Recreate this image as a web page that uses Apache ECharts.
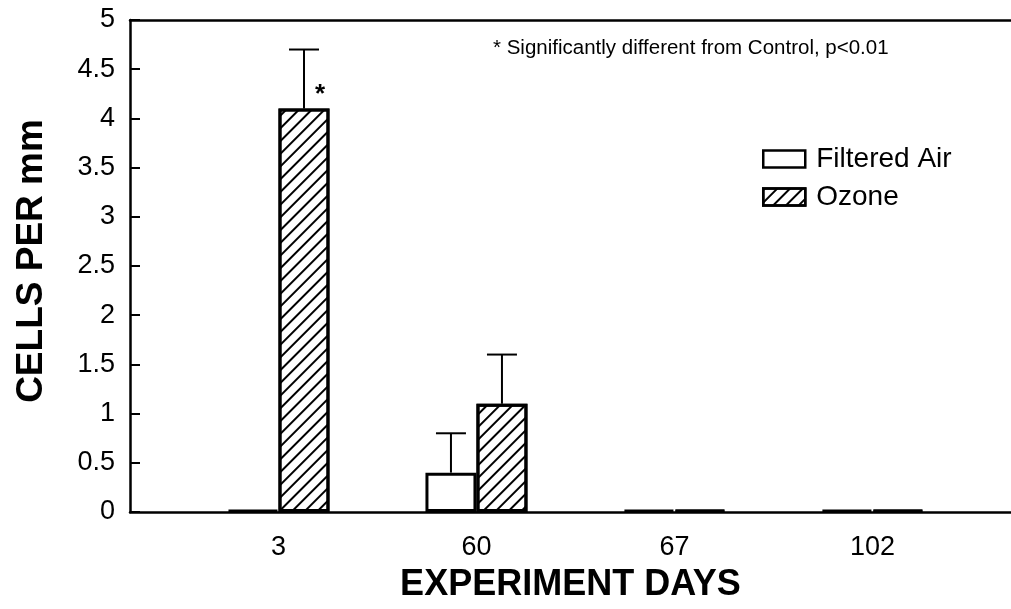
<!DOCTYPE html>
<html>
<head>
<meta charset="utf-8">
<script src="https://cdn.jsdelivr.net/npm/echarts@6/dist/echarts.min.js"></script>
<style>
  html, body { margin: 0; padding: 0; background: #fff; }
  #chart { width: 1011px; height: 609px; }
</style>
</head>
<body>
<div id="chart"></div>
<script>
// 数据
var days = ['3', '60', '67', '102'];
var filteredAir = [0.02, 0.4, 0.02, 0.02];
var ozone = [4.1, 1.1, 0.02, 0.02];
var filteredAirErr = [0, 0.4, 0, 0];
var ozoneErr = [0.6, 0.5, 0, 0];
var ozoneSig = [true, false, false, false];
var yTicks = [0, 0.5, 1, 1.5, 2, 2.5, 3, 3.5, 4, 4.5, 5];

var font = "'Liberation Sans', Arial, Helvetica, sans-serif";
var barW = 51;

var hatch = {
  symbol: 'rect',
  symbolSize: 1,
  dashArrayX: [1, 0],
  dashArrayY: [2, 7],
  rotation: -Math.PI / 4,
  color: '#000'
};

function pairs(arr) {
  return arr.map(function (v, i) { return [i, v]; });
}
function errData(vals, errs) {
  return vals.map(function (v, i) { return [i, v, errs[i]]; });
}

// 误差线
function errRender(offset) {
  return function (params, api) {
    var e = api.value(2);
    if (!e) return;
    var base = api.coord([api.value(0), api.value(1)]);
    var top = api.coord([api.value(0), api.value(1) + e]);
    var x = base[0] + offset;
    return {
      type: 'group',
      children: [
        { type: 'line', shape: { x1: x, y1: base[1], x2: x, y2: top[1] }, style: { stroke: '#000', lineWidth: 2 } },
        { type: 'line', shape: { x1: x - 15, y1: top[1], x2: x + 15, y2: top[1] }, style: { stroke: '#000', lineWidth: 2 } }
      ]
    };
  };
}

var myChart = echarts.init(document.getElementById('chart'));
myChart.setOption({
  backgroundColor: '#fff',
  animation: false,
  textStyle: { fontFamily: font, color: '#000' },
  title: {
    text: '* Significantly different from Control, p<0.01',
    left: 488,
    top: 33,
    textStyle: { fontFamily: font, fontSize: 20.5, fontWeight: 'normal', color: '#000' }
  },
  legend: {
    orient: 'vertical',
    left: 757,
    top: 140,
    icon: 'rect',
    itemWidth: 42,
    itemHeight: 17,
    itemGap: 10,
    itemStyle: { borderColor: '#000', borderWidth: 2.5 },
    textStyle: { fontFamily: font, fontSize: 28, color: '#000', lineHeight: 28, padding: [0, 0, 0, 6] },
    data: ['Filtered Air', 'Ozone']
  },
  grid: { left: 130, right: 0, top: 20, bottom: 97, containLabel: false },
  xAxis: [{
    type: 'value',
    min: -0.75,
    max: 3.7,
    name: 'EXPERIMENT DAYS',
    nameLocation: 'middle',
    nameGap: 55,
    nameTextStyle: { fontFamily: font, fontSize: 36, fontWeight: 'bold', color: '#000' },
    axisLine: { show: true, onZero: false, lineStyle: { color: '#000', width: 2.5 } },
    axisTick: { show: false },
    splitLine: { show: false },
    axisLabel: {
      customValues: [0, 1, 2, 3],
      formatter: function (v) { return days[Math.round(v)]; },
      fontFamily: font, fontSize: 27, color: '#000', margin: 22
    }
  }, {
    type: 'value',
    position: 'top',
    min: -0.75,
    max: 3.7,
    axisLine: { show: true, onZero: false, lineStyle: { color: '#000', width: 2.5 } },
    axisTick: { show: false },
    axisLabel: { show: false },
    splitLine: { show: false }
  }],
  yAxis: {
    type: 'value',
    min: 0,
    max: 5,
    interval: 0.5,
    name: 'CELLS PER mm',
    nameLocation: 'middle',
    nameGap: 80,
    nameTextStyle: { fontFamily: font, fontSize: 37, fontWeight: 'bold', color: '#000', padding: [0, 0, 0, 10] },
    axisLine: { show: true, onZero: false, lineStyle: { color: '#000', width: 2.5 } },
    axisTick: { show: true, inside: true, length: 10, customValues: yTicks, lineStyle: { color: '#000', width: 2 } },
    splitLine: { show: false },
    axisLabel: { fontFamily: font, fontSize: 27, color: '#000', margin: 15 }
  },
  series: [{
    name: 'Filtered Air',
    type: 'bar',
    barWidth: barW,
    barGap: '0%',
    data: pairs(filteredAir),
    itemStyle: { color: '#fff', borderColor: '#000', borderWidth: 3 }
  }, {
    name: 'Ozone',
    type: 'bar',
    barWidth: barW,
    barGap: '0%',
    data: pairs(ozone),
    itemStyle: { color: '#fff', borderColor: '#000', borderWidth: 3, decal: hatch }
  }, {
    type: 'custom',
    z: 5,
    renderItem: errRender(-barW / 2),
    data: errData(filteredAir, filteredAirErr)
  }, {
    type: 'custom',
    z: 5,
    renderItem: errRender(barW / 2),
    data: errData(ozone, ozoneErr)
  }, {
    type: 'custom',
    z: 5,
    renderItem: function (params, api) {
      if (!ozoneSig[params.dataIndex]) return;
      var p = api.coord([api.value(0), api.value(1)]);
      return {
        type: 'text',
        style: { text: '*', x: p[0] + barW / 2 + 16, y: p[1] - 14, fill: '#000', font: 'bold 26px ' + font, align: 'center', verticalAlign: 'middle' }
      };
    },
    data: pairs(ozone)
  }]
});
</script>
</body>
</html>
